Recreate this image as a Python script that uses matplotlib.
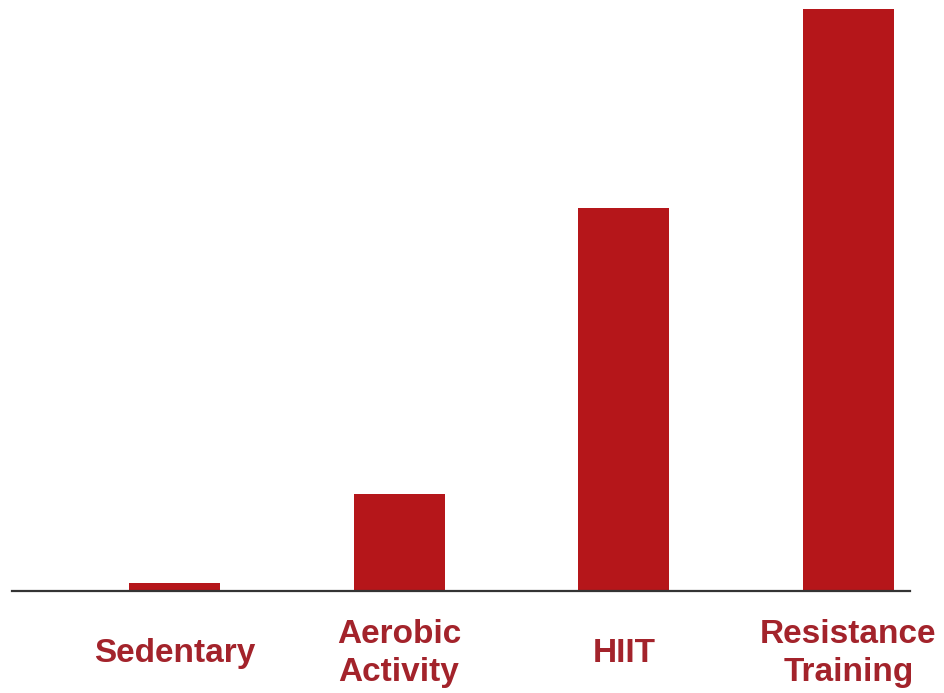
import matplotlib
matplotlib.use("Agg")
import matplotlib.pyplot as plt

categories = ["Sedentary", "Aerobic\nActivity", "HIIT", "Resistance\nTraining"]
values = [1.4, 16.7, 65.8, 100.0]

BAR_COLOR = "#b5161a"
TEXT_COLOR = "#a3232b"

fig = plt.figure(figsize=(9.44, 6.93), dpi=100)
ax = fig.add_axes([12 / 944, 102 / 693, 898 / 944, 582 / 693])

x = list(range(len(categories)))
ax.bar(x, values, width=0.405, color=BAR_COLOR, zorder=2)

ax.set_xlim(-0.723, 3.274)
ax.set_ylim(0, 100)

for side in ("left", "right", "top"):
    ax.spines[side].set_visible(False)
ax.spines["bottom"].set_color("#333333")
ax.spines["bottom"].set_linewidth(1.6)
ax.set_xticks([])
ax.set_yticks([])

for xi, label in zip(x, categories):
    ax.text(xi, -0.107, label, transform=ax.get_xaxis_transform(),
            ha="center", va="center", fontsize=24, fontweight="bold",
            color=TEXT_COLOR, family="Liberation Sans", linespacing=1.3)

fig.savefig("out.png", dpi=100)
